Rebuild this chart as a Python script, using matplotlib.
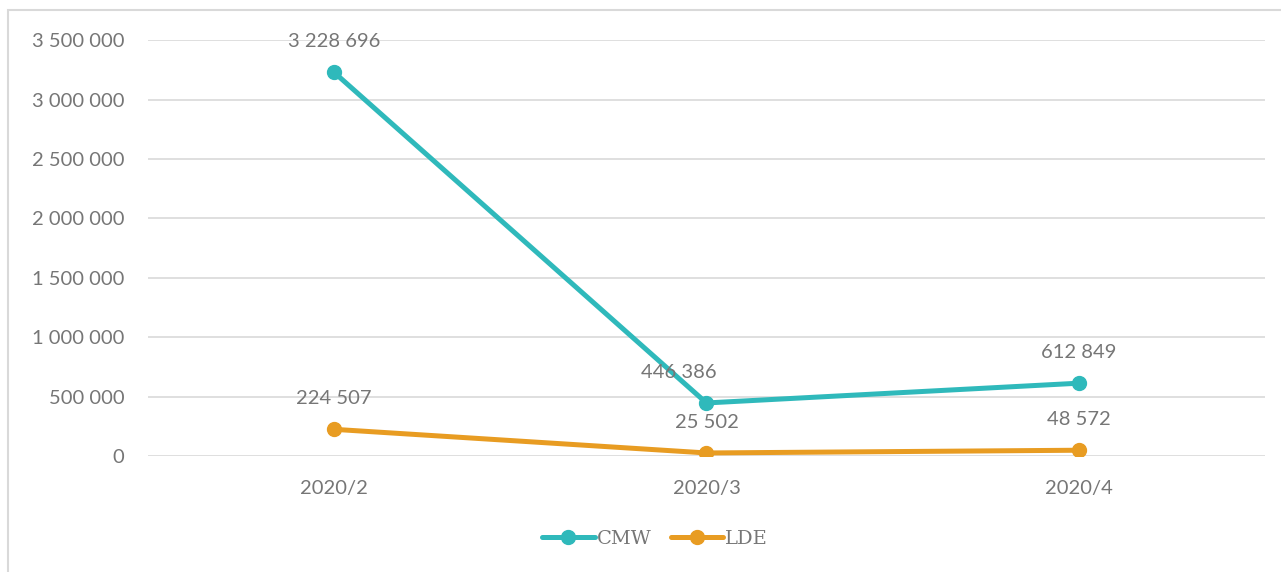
import matplotlib.pyplot as plt
from matplotlib.patches import Rectangle
from matplotlib.ticker import FuncFormatter

categories = ['2020/2', '2020/3', '2020/4']
cmw = [3228696, 446386, 612849]
lde = [224507, 25502, 48572]

teal = '#2fb9bb'
orange = '#e89c22'
grey = '#767676'

plt.rcParams['font.family'] = ['Lato', 'DejaVu Sans']

fig = plt.figure(figsize=(12.81, 5.72), dpi=100)
ax = fig.add_axes([0.1155, 0.2028, 0.872, 0.727])

# light frame around the chart area
fig.patches.append(Rectangle((8 / 1281, -0.1), 1.2, (572 - 10) / 572 + 0.1,
                             transform=fig.transFigure, fill=False,
                             edgecolor='#d9d9d9', linewidth=1.5))

x = range(len(categories))
ax.plot(x, cmw, color=teal, lw=3.6, marker='o', ms=10, label='CMW',
        solid_capstyle='round', zorder=3)
ax.plot(x, lde, color=orange, lw=3.6, marker='o', ms=10, label='LDE',
        solid_capstyle='round', zorder=3)

def fmt(v, pos=None):
    return f'{int(v):,}'.replace(',', ' ')

label_shift = [0, -20, 0]
for i in x:
    ax.annotate(fmt(cmw[i]), (i, cmw[i]), xytext=(label_shift[i], 22),
                textcoords='offset points', ha='center', va='center',
                fontsize=14.5, color=grey)
    ax.annotate(fmt(lde[i]), (i, lde[i]), xytext=(0, 22),
                textcoords='offset points', ha='center', va='center',
                fontsize=14.5, color=grey)

ax.set_xlim(-0.5, 2.5)
ax.set_ylim(0, 3500000)
ax.set_yticks(range(0, 3500001, 500000))
ax.yaxis.set_major_formatter(FuncFormatter(fmt))
ax.set_xticks(list(x))
ax.set_xticklabels(categories)
ax.grid(axis='y', color='#d9d9d9', lw=1.2)
ax.set_axisbelow(True)
for s in ax.spines.values():
    s.set_visible(False)
ax.tick_params(length=0, labelsize=14.5, colors=grey)
ax.tick_params(axis='y', pad=17)
ax.tick_params(axis='x', pad=17)

leg = ax.legend(loc='center', bbox_to_anchor=(0.454, -0.2), ncol=2,
                frameon=False, handlelength=2.7,
                handletextpad=0.1, columnspacing=1.0,
                prop={'family': 'DejaVu Serif', 'size': 14})
for t in leg.get_texts():
    t.set_color(grey)

fig.savefig('out.png', dpi=100)
